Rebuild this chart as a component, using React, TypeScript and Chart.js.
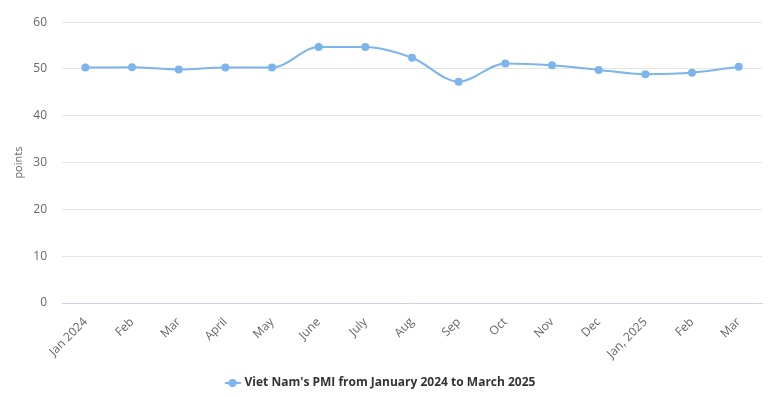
import React, { useEffect, useRef } from "react";
import { Chart, registerables } from "chart.js";

Chart.register(...registerables);

const categories = [
  "Jan 2024", "Feb", "Mar", "April", "May", "June", "July", "Aug",
  "Sep", "Oct", "Nov", "Dec", "Jan, 2025", "Feb", "Mar",
];
const pmiValues = [50.3, 50.4, 49.9, 50.3, 50.3, 54.7, 54.7, 52.4, 47.3, 51.2, 50.8, 49.8, 48.9, 49.2, 50.5];
const seriesName = "Viet Nam's PMI from January 2024 to March 2025";
const yAxisTitle = "points";
const yMin = 0;
const yMax = 60;
const yStep = 10;

const COLOR = "#7cb5ec";
const FONT = "'Open Sans', 'DejaVu Sans', sans-serif";

function makeLegendSymbol(): HTMLCanvasElement {
  const c = document.createElement("canvas");
  c.width = 16;
  c.height = 10;
  const ctx = c.getContext("2d")!;
  ctx.strokeStyle = COLOR;
  ctx.lineWidth = 2;
  ctx.beginPath();
  ctx.moveTo(0, 5);
  ctx.lineTo(16, 5);
  ctx.stroke();
  ctx.fillStyle = COLOR;
  ctx.beginPath();
  ctx.arc(8, 5, 4, 0, Math.PI * 2);
  ctx.fill();
  return c;
}

export default function App() {
  const ref = useRef<HTMLCanvasElement | null>(null);

  useEffect(() => {
    if (!ref.current) return;
    const symbol = makeLegendSymbol();
    const chart = new Chart(ref.current, {
      type: "line",
      data: {
        labels: categories,
        datasets: [
          {
            label: seriesName,
            data: pmiValues,
            borderColor: COLOR,
            backgroundColor: COLOR,
            borderWidth: 2,
            pointRadius: 4,
            pointHoverRadius: 4,
            pointBackgroundColor: COLOR,
            pointBorderWidth: 0,
            pointStyle: "circle",
            cubicInterpolationMode: "monotone",
            fill: false,
          },
        ],
      },
      options: {
        animation: false,
        responsive: false,
        maintainAspectRatio: false,
        layout: { padding: { left: 0, right: 19, top: 22, bottom: -2 } },
        plugins: {
          tooltip: { enabled: false },
          legend: {
            position: "bottom",
            labels: {
              usePointStyle: true,
              pointStyle: symbol as any,
              color: "#333333",
              font: { family: FONT, size: 12, weight: "bold" },
              padding: 12,
            },
          },
        },
        scales: {
          x: {
            grid: { display: false },
            border: { display: true, color: "#ccd6eb", width: 1 },
            offset: true,
            ticks: {
              maxRotation: 45,
              minRotation: 45,
              autoSkip: false,
              color: "#666666",
              font: { family: FONT, size: 12 },
              padding: 4,
            },
            afterFit: (scale: any) => {
              scale.height = 62;
            },
          },
          y: {
            min: yMin,
            max: yMax,
            border: { display: false },
            grid: { color: "#e6e6e6", drawTicks: false, lineWidth: 1 },
            ticks: {
              stepSize: yStep,
              color: "#666666",
              font: { family: FONT, size: 12 },
              padding: 15,
            },
            title: {
              display: true,
              text: yAxisTitle,
              color: "#666666",
              font: { family: FONT, size: 11 },
              padding: { top: 12, bottom: 0 },
            },
            afterFit: (scale: any) => {
              scale.width = 62;
            },
          },
        },
      },
    });
    return () => chart.destroy();
  }, []);

  return (
    <div style={{ position: "fixed", left: 0, top: 0, width: 781, height: 397, background: "#fff" }}>
      <canvas ref={ref} width={781} height={397} style={{ width: 781, height: 397 }} />
    </div>
  );
}
